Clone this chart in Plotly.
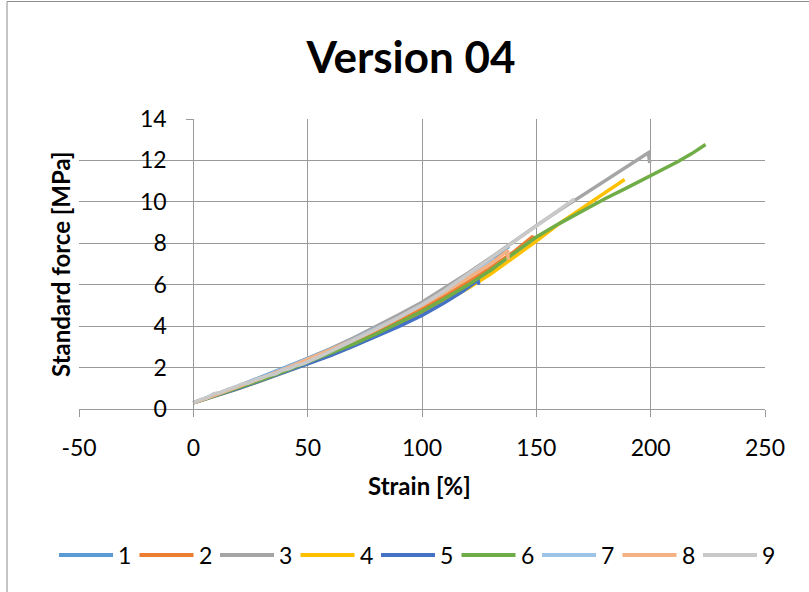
import plotly.graph_objects as go

# Tensile test curves, specimens 1-9: strain [%] vs. standard force [MPa]
names = ["1", "2", "3", "4", "5", "6", "7", "8", "9"]
colors = ["#5B9BD5", "#ED7D31", "#A5A5A5", "#FFC000", "#4472C4",
          "#70AD47", "#9DC3E6", "#F4B183", "#C9C9C9"]

strain_1 = [0, 5, 10, 20, 30, 40, 50, 60, 70, 80, 90, 100, 110, 120, 130, 138]
force_1 = [0.3, 0.52, 0.72, 1.12, 1.55, 2.0, 2.45, 2.9, 3.4, 3.92, 4.48, 5.08, 5.72, 6.42, 7.15, 7.85]

strain_2 = [0, 10, 20, 30, 40, 50, 60, 70, 80, 90, 100, 110, 120, 130, 140, 148.5, 148.8]
force_2 = [0.3, 0.68, 1.05, 1.45, 1.88, 2.3, 2.75, 3.22, 3.72, 4.28, 4.85, 5.47, 6.12, 6.82, 7.58, 8.34, 8.1]

strain_3 = [0, 10, 20, 30, 40, 50, 60, 70, 80, 90, 100, 110, 120, 130, 140, 150, 160, 170, 180, 190, 199, 199.6]
force_3 = [0.3, 0.7, 1.1, 1.52, 1.96, 2.42, 2.9, 3.42, 3.98, 4.56, 5.15, 5.85, 6.55, 7.3, 8.1, 8.85, 9.59, 10.3, 11.01, 11.73, 12.37, 11.88]

strain_4 = [0, 10, 20, 30, 40, 50, 60, 70, 80, 90, 100, 110, 120, 130, 140, 150, 160, 170, 180, 188.6]
force_4 = [0.3, 0.64, 1.0, 1.38, 1.78, 2.18, 2.6, 3.05, 3.52, 4.03, 4.58, 5.18, 5.82, 6.52, 7.3, 8.1, 8.95, 9.7, 10.42, 11.08]

strain_5 = [0, 10, 20, 30, 40, 50, 60, 70, 80, 90, 100, 110, 118, 124.5, 124.8]
force_5 = [0.3, 0.64, 1.0, 1.38, 1.77, 2.17, 2.58, 3.03, 3.5, 3.99, 4.52, 5.14, 5.7, 6.22, 6.0]

strain_6 = [0, 10, 20, 30, 40, 50, 60, 70, 80, 90, 100, 110, 120, 130, 140, 150, 160, 170, 180, 190, 200, 206, 212, 218, 224]
force_6 = [0.3, 0.66, 1.03, 1.42, 1.83, 2.25, 2.68, 3.13, 3.62, 4.15, 4.72, 5.33, 5.98, 6.7, 7.48, 8.3, 8.95, 9.55, 10.15, 10.7, 11.25, 11.6, 11.95, 12.33, 12.77]

strain_7 = [0, 10, 20, 30, 40, 50, 60, 70, 80, 90, 100, 110, 120, 132]
force_7 = [0.3, 0.7, 1.1, 1.52, 1.96, 2.4, 2.86, 3.35, 3.88, 4.44, 5.03, 5.66, 6.35, 7.22]

strain_8 = [0, 10, 20, 30, 40, 50, 60, 70, 80, 90, 100, 110, 120, 130, 137.5, 137.7]
force_8 = [0.3, 0.7, 1.08, 1.5, 1.93, 2.38, 2.83, 3.32, 3.85, 4.42, 5.0, 5.62, 6.3, 7.0, 7.65, 7.2]

strain_9 = [0, 3, 6, 9, 12, 15, 18, 21, 24, 27, 30, 33, 36, 39, 42, 45, 48, 52, 56, 60,
            70, 80, 90, 100, 110, 120, 130, 140, 150, 160, 166.7]
force_9 = [0.3, 0.45, 0.55, 0.74, 0.8, 0.95, 1.05, 1.2, 1.25, 1.4, 1.5, 1.63, 1.7, 1.87, 1.95, 2.1, 2.18, 2.4, 2.58, 2.78,
           3.3, 3.85, 4.42, 5.03, 5.72, 6.5, 7.25, 8.05, 8.85, 9.6, 10.14]

strains = [strain_1, strain_2, strain_3, strain_4, strain_5, strain_6, strain_7, strain_8, strain_9]
forces = [force_1, force_2, force_3, force_4, force_5, force_6, force_7, force_8, force_9]

x_ticks = [-50, 0, 50, 100, 150, 200, 250]
y_ticks = [0, 2, 4, 6, 8, 10, 12, 14]

FONT = "Lato"
GRID = "#9a9a9a"

# plot area in pixels
L, R, T, B = 79, 765, 119, 409
PW, PH = R - L, B - T


def px_x(p):
    return (p - L) / PW


def px_y(p):
    return (B - p) / PH


fig = go.Figure()
for name, col, xs, ys in zip(names, colors, strains, forces):
    fig.add_trace(go.Scatter(x=xs, y=ys, mode="lines", name=name,
                             line=dict(color=col, width=3.5), showlegend=False))

# legend drawn below the axis title: line sample followed by the series name
shapes = [
    dict(type="rect", xref="paper", yref="paper",
         x0=px_x(7), x1=1.3, y0=-0.8, y1=px_y(1.5),
         line=dict(color="#8c8c8c", width=1), fillcolor="rgba(0,0,0,0)", layer="below"),
]
annotations = [
    dict(text="Strain [%]", xref="paper", yref="paper", x=px_x(419), y=px_y(485),
         showarrow=False, xanchor="center", yanchor="middle",
         font=dict(family=FONT, size=24, weight="bold")),
    dict(text="Standard force [MPa]", xref="paper", yref="paper", x=px_x(60), y=px_y(264),
         textangle=-90, showarrow=False, xanchor="center", yanchor="middle",
         font=dict(family=FONT, size=24, weight="bold")),
]
LEG_X0, LEG_PITCH, LEG_LINE, LEG_Y = 59, 80.5, 54, 555
for i, (name, col) in enumerate(zip(names, colors)):
    x0 = LEG_X0 + i * LEG_PITCH
    shapes.append(dict(type="line", xref="paper", yref="paper",
                       x0=px_x(x0), x1=px_x(x0 + LEG_LINE), y0=px_y(LEG_Y), y1=px_y(LEG_Y),
                       line=dict(color=col, width=4)))
    annotations.append(dict(text=name, xref="paper", yref="paper",
                            x=px_x(x0 + LEG_LINE + 3), y=px_y(LEG_Y),
                            showarrow=False, xanchor="left", yanchor="middle",
                            font=dict(family=FONT, size=23)))

fig.update_layout(
    width=809, height=592,
    margin=dict(l=L, r=809 - R, t=T, b=592 - B),
    paper_bgcolor="white", plot_bgcolor="white",
    font=dict(family=FONT, size=23, color="black"),
    showlegend=False,
    title=dict(text="Version 04", x=411 / 809, xref="container", xanchor="center",
               y=1 - 58 / 592, yref="container", yanchor="middle",
               font=dict(family=FONT, size=44, weight="bold", color="black")),
    xaxis=dict(range=[-50, 250], tickvals=x_ticks, ticktext=[str(v) for v in x_ticks],
               showgrid=True, gridcolor=GRID, gridwidth=1,
               zeroline=False, showline=True, linecolor=GRID, linewidth=1,
               ticks="outside", ticklen=7, tickcolor=GRID, ticklabelstandoff=11,
               tickfont=dict(size=23)),
    yaxis=dict(range=[0, 14], tickvals=y_ticks, ticktext=[str(v) for v in y_ticks],
               showgrid=True, gridcolor=GRID, gridwidth=1,
               zeroline=False, showline=True, linecolor=GRID, linewidth=1,
               anchor="free", position=50 / 300,
               ticks="outside", ticklen=7, tickcolor=GRID, ticklabelstandoff=15,
               tickfont=dict(size=23)),
    annotations=annotations,
    shapes=shapes,
)

fig.write_html("out.html")
